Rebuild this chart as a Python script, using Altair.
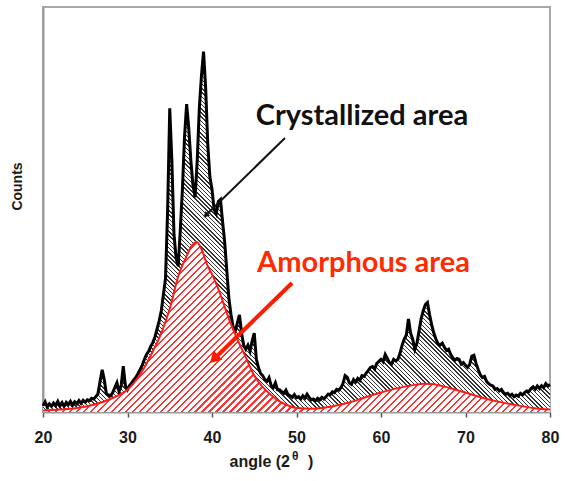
import altair as alt
import pandas as pd

# ---- data ----
angle_total = [20.00,20.25,20.50,20.75,21.00,21.25,21.50,21.75,22.00,22.25,22.50,22.75,23.00,23.25,23.50,23.75,
               24.00,24.25,24.50,24.75,25.00,25.25,25.50,25.75,26.00,26.25,26.50,26.75,27.00,27.25,27.50,27.75,
               28.00,28.25,28.50,28.75,29.00,29.25,29.50,29.75,30.00,30.25,30.50,30.75,31.00,31.25,31.50,31.75,
               32.00,32.25,32.50,32.75,33.00,33.25,33.50,33.75,34.00,34.25,34.50,34.75,35.00,35.25,35.50,35.75,
               36.00,36.25,36.50,36.75,37.00,37.25,37.50,37.75,38.00,38.25,38.50,38.75,39.00,39.25,39.50,39.75,
               40.00,40.25,40.50,40.75,41.00,41.25,41.50,41.75,42.00,42.25,42.50,42.75,43.00,43.25,43.50,43.75,
               44.00,44.25,44.50,44.75,45.00,45.25,45.50,45.75,46.00,46.25,46.50,46.75,47.00,47.25,47.50,47.75,
               48.00,48.25,48.50,48.75,49.00,49.25,49.50,49.75,50.00,50.25,50.50,50.75,51.00,51.25,51.50,51.75,
               52.00,52.25,52.50,52.75,53.00,53.25,53.50,53.75,54.00,54.25,54.50,54.75,55.00,55.25,55.50,55.75,
               56.00,56.25,56.50,56.75,57.00,57.25,57.50,57.75,58.00,58.25,58.50,58.75,59.00,59.25,59.50,59.75,
               60.00,60.25,60.50,60.75,61.00,61.25,61.50,61.75,62.00,62.25,62.50,62.75,63.00,63.25,63.50,63.75,
               64.00,64.25,64.50,64.75,65.00,65.25,65.50,65.75,66.00,66.25,66.50,66.75,67.00,67.25,67.50,67.75,
               68.00,68.25,68.50,68.75,69.00,69.25,69.50,69.75,70.00,70.25,70.50,70.75,71.00,71.25,71.50,71.75,
               72.00,72.25,72.50,72.75,73.00,73.25,73.50,73.75,74.00,74.25,74.50,74.75,75.00,75.25,75.50,75.75,
               76.00,76.25,76.50,76.75,77.00,77.25,77.50,77.75,78.00,78.25,78.50,78.75,79.00,79.25,79.50,79.75,
               80.00]
counts_total = [1.5,2.5,1.2,2.0,1.4,2.2,1.6,2.6,1.5,2.3,1.4,2.4,1.8,2.6,1.7,2.5,
                2.0,2.8,2.1,2.9,2.4,3.0,2.8,3.4,3.2,3.8,4.5,7.5,10.4,8.0,4.5,4.2,
                4.0,4.8,6.0,7.2,5.0,6.5,11.3,6.5,5.5,6.5,7.2,8.0,8.6,9.5,10.5,11.6,
                13.0,14.2,15.0,16.2,17.2,18.5,20.5,22.5,25.0,29.0,33.0,50.0,75.0,62.0,44.0,38.0,
                36.0,45.0,55.0,68.0,76.0,70.0,62.0,56.0,53.0,62.0,75.0,83.0,89.0,80.0,66.0,58.0,
                55.0,50.0,49.0,52.0,52.5,47.0,42.0,35.0,28.0,24.0,21.0,20.0,22.0,24.0,19.5,16.5,
                15.5,16.5,15.0,17.5,19.5,13.0,11.0,9.5,9.0,8.0,7.6,8.5,6.5,6.0,7.2,5.5,
                5.5,5.0,4.6,5.4,4.3,4.0,3.6,4.3,3.5,3.8,3.2,4.0,3.4,4.4,3.6,3.0,
                3.2,2.8,3.4,3.0,3.6,3.2,3.8,4.4,4.3,5.0,4.8,5.6,5.4,6.0,7.0,9.0,
                8.6,7.2,6.8,8.0,7.4,8.3,7.8,9.0,8.8,9.6,10.3,11.0,11.2,10.6,12.0,12.5,
                13.0,12.4,14.2,13.2,12.2,11.8,13.0,12.6,13.0,14.5,16.5,18.0,19.0,23.0,19.5,18.0,
                15.5,17.0,20.0,23.0,25.0,26.5,27.0,24.0,21.5,19.5,18.0,16.8,16.5,17.0,16.0,15.2,
                15.5,14.2,13.4,12.8,13.2,13.0,11.8,12.2,11.5,11.0,11.8,13.8,14.0,12.0,10.5,9.2,
                8.5,8.8,7.5,7.0,6.6,6.4,5.6,5.8,5.2,5.6,4.8,4.4,4.6,4.0,4.4,3.8,
                4.2,3.9,4.6,4.2,4.8,5.2,5.0,5.8,6.2,5.6,6.4,5.8,6.5,6.0,7.0,6.4,
                6.8]

angle_amorph = [20, 22, 24, 26, 28, 29, 30, 31, 32, 33, 34, 35, 36, 37, 37.6, 38.2, 38.8, 39.5, 40, 41,
                42, 43, 44, 45, 46, 47, 48, 49, 50, 52, 54, 56, 58, 60, 62, 64, 65, 66, 68, 70,
                72, 74, 76, 78, 80]
counts_amorph = [0.4, 0.6, 1.0, 1.8, 3.2, 4.2, 5.5, 7.8, 11.0, 15.0, 19.5, 25.5, 33.5, 38.5, 41.0, 42.0, 40.0, 36.0, 34.0, 29.0,
                 23.0, 18.0, 13.5, 9.0, 6.2, 4.2, 2.6, 1.6, 1.0, 0.8, 1.3, 2.2, 3.5, 4.8, 5.9, 6.7, 7.0, 6.9, 6.0, 4.8,
                 3.5, 2.5, 1.7, 1.0, 0.6]

x_ticks = [20, 30, 40, 50, 60, 70, 80]

labels_text = ["Crystallized area", "Amorphous area"]
labels_angle = [57.75, 57.93]
labels_counts = [70.9, 34.6]
labels_color = ["#111111", "#ff2a00"]

# arrows: start -> tip (angle, counts)
arrow_x = [48.64, 49.47]
arrow_y = [67.65, 31.85]
arrow_x2 = [39.33, 40.39]
arrow_y2 = [48.70, 13.40]
arrow_color = ["#111111", "#ff1a00"]

W, H = 507, 405
X_DOM = [20, 80]
Y_DOM = [0, 100]

total = pd.DataFrame({"angle": angle_total, "counts": counts_total})
amorph = pd.DataFrame({"angle": angle_amorph, "counts": counts_amorph})


def hatch(w, h, period, frac, line_color, bg_color, rising):
    k = w * (w + h) / (w * w + h * h)
    n = int(round((w + h) / period))
    stops = []
    for i in range(n):
        a, b, c = i / n, (i + frac) / n, (i + 1) / n
        stops += [alt.GradientStop(color=line_color, offset=a),
                  alt.GradientStop(color=line_color, offset=b),
                  alt.GradientStop(color=bg_color, offset=b),
                  alt.GradientStop(color=bg_color, offset=c)]
    if rising:
        return alt.LinearGradient(gradient="linear", stops=stops, x1=0, y1=0, x2=k, y2=k * h / w)
    return alt.LinearGradient(gradient="linear", stops=stops, x1=0, y1=1, x2=k, y2=1 - k * h / w)


h_total = max(counts_total) / Y_DOM[1] * H
h_amorph = max(counts_amorph) / Y_DOM[1] * H

xs = alt.Scale(domain=X_DOM, nice=False, zero=False)
ys = alt.Scale(domain=Y_DOM, nice=False)

x_enc = alt.X("angle:Q", scale=xs, title=None,
              axis=alt.Axis(values=x_ticks, grid=False, tickSize=5, tickColor="#555", tickWidth=1.5,
                            domainColor="#9a9a9a", domainWidth=2,
                            labelFont="Liberation Sans", labelFontWeight="bold", labelFontSize=16,
                            labelColor="#1a1a1a", labelPadding=12, labelFlush=False))
y_enc = alt.Y("counts:Q", scale=ys,
              axis=alt.Axis(title="Counts", labels=False, ticks=False, grid=False,
                            domainColor="#9a9a9a", domainWidth=2,
                            titleFont="Liberation Sans", titleFontWeight="bold", titleFontSize=14,
                            titleColor="#1a1a1a", titleX=-26, titleY=179, titleAlign="center",
                            titleBaseline="middle", titleAngle=270))

area_total = alt.Chart(total).mark_area(
    interpolate="linear",
    fill=hatch(W, h_total, 4.2, 0.34, "#333333", "#ffffff", rising=False),
).encode(x=x_enc, y=y_enc)

area_amorph = alt.Chart(amorph).mark_area(
    interpolate="monotone",
    fill=hatch(W, h_amorph, 7.0, 0.33, "#ff3535", "#ffffff", rising=True),
).encode(x=alt.X("angle:Q", scale=xs), y=alt.Y("counts:Q", scale=ys))

line_total = alt.Chart(total).mark_line(color="#000000", strokeWidth=3.0, interpolate="linear",
                                        strokeJoin="miter").encode(
    x=alt.X("angle:Q", scale=xs), y=alt.Y("counts:Q", scale=ys))

line_amorph = alt.Chart(amorph).mark_line(color="#ff1a1a", strokeWidth=2, interpolate="monotone").encode(
    x=alt.X("angle:Q", scale=xs), y=alt.Y("counts:Q", scale=ys))

arrows = pd.DataFrame({"x": arrow_x, "y": arrow_y, "x2": arrow_x2, "y2": arrow_y2,
                       "c": arrow_color, "w": [2.0, 4.0], "s": [45, 170], "a": [225.7, 225.7]})

arrow_lines = alt.Chart(arrows).mark_rule().encode(
    x=alt.X("x:Q", scale=xs), y=alt.Y("y:Q", scale=ys),
    x2="x2:Q", y2="y2:Q",
    color=alt.Color("c:N", scale=None),
    strokeWidth=alt.StrokeWidth("w:Q", scale=None))

arrow_heads = alt.Chart(arrows).mark_point(shape="triangle", filled=True, opacity=1).encode(
    x=alt.X("x2:Q", scale=xs), y=alt.Y("y2:Q", scale=ys),
    color=alt.Color("c:N", scale=None),
    size=alt.Size("s:Q", scale=None),
    angle=alt.Angle("a:Q", scale=None))

labels = pd.DataFrame({"t": labels_text, "x": labels_angle, "y": labels_counts, "c": labels_color})
label_marks = alt.Chart(labels).mark_text(font="Lato", fontWeight="bold", fontSize=29,
                                          align="center", baseline="alphabetic").encode(
    x=alt.X("x:Q", scale=xs), y=alt.Y("y:Q", scale=ys), text="t:N",
    color=alt.Color("c:N", scale=None))

title_df = pd.DataFrame({"t": ["angle (2", "θ", ")"]})
title_main = alt.Chart(title_df.iloc[[0]]).mark_text(font="Liberation Sans", fontWeight="bold", fontSize=16,
                                                     align="right", baseline="alphabetic", color="#1a1a1a").encode(
    x=alt.value(247), y=alt.value(460), text="t:N")
title_theta = alt.Chart(title_df.iloc[[1]]).mark_text(font="Liberation Sans", fontWeight="bold", fontSize=12,
                                                      align="left", baseline="alphabetic", color="#1a1a1a").encode(
    x=alt.value(249), y=alt.value(453), text="t:N")
title_paren = alt.Chart(title_df.iloc[[2]]).mark_text(font="Liberation Sans", fontWeight="bold", fontSize=16,
                                                      align="left", baseline="alphabetic", color="#1a1a1a").encode(
    x=alt.value(265), y=alt.value(460), text="t:N")

chart = alt.layer(
    area_total, area_amorph, line_total, line_amorph, arrow_lines, arrow_heads, label_marks,
    title_main, title_theta, title_paren
).properties(
    width=W, height=H,
    autosize=alt.AutoSizeParams(type="none"),
    padding={"left": 43, "top": 7, "right": 15, "bottom": 69},
    background="#ffffff",
).configure_view(stroke="#a8a8a8", strokeWidth=2)

chart.save("out.html", embed_options={"renderer": "svg", "actions": False})
